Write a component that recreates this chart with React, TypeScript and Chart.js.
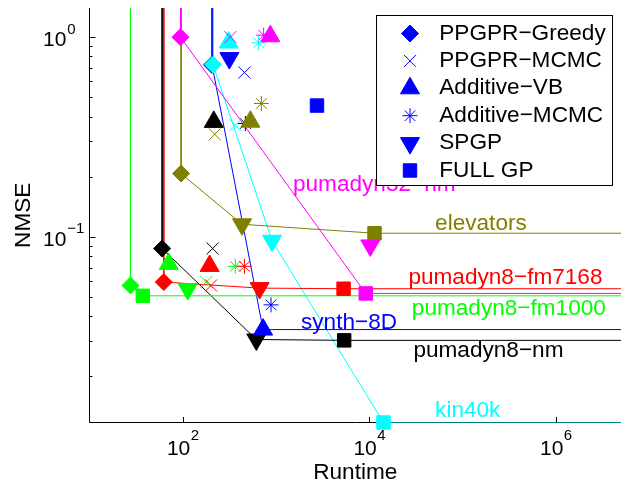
import React, { useEffect, useRef } from "react";
import { Chart, registerables } from "chart.js";
import { drawPoint } from "chart.js/helpers";

Chart.register(...registerables);

const FONT = '"Liberation Sans", Arial, Helvetica, sans-serif';

// ---- data ----
const datasetNames = [
  "pumadyn32−nm",
  "elevators",
  "pumadyn8−fm7168",
  "pumadyn8−fm1000",
  "synth−8D",
  "pumadyn8−nm",
  "kin40k",
];
const datasetColors = ["#ff00ff", "#808000", "#ff0000", "#00ff00", "#0000ff", "#000000", "#00ffff"];

const methodNames = ["PPGPR−Greedy", "PPGPR−MCMC", "Additive−VB", "Additive−MCMC", "SPGP", "FULL GP"];

// values per method, in the order of datasetNames
const greedyRuntime = [94.5, 96, 62.6, 27.5, 206, 60.1, 211];
const greedyNmse = [1.0, 0.207, 0.0592, 0.0569, 0.726, 0.0872, 0.728];
const ppgprMcmcRuntime = [324, 220, 201, 179, 458, 209, 366];
const ppgprMcmcNmse = [1.0, 0.326, 0.0569, 0.0592, 0.665, 0.0872, 0.362];
const additiveVbRuntime = [869, 531, 194, 70.8, 726, 215, 311];
const additiveVbNmse = [1.01, 0.377, 0.0713, 0.073, 0.0342, 0.376, 0.94];
const additiveMcmcRuntime = [736, 696, 458, 366, 883, 469, 651];
const additiveMcmcNmse = [1.023, 0.465, 0.071, 0.071, 0.0455, 0.369, 0.936];
const spgpRuntime = [10250, 432, 667, 113, 316, 615, 906];
const spgpNmse = [0.0903, 0.1153, 0.0552, 0.0546, 0.785, 0.0305, 0.0953];
const fullGpRuntime = [9170, 11380, 5300, 37.3, 2750, 5380, 14200];
const fullGpNmse = [0.0519, 0.104, 0.0548, 0.0505, 0.454, 0.0302, 0.0117];

// methods (indices) lying on each data set's frontier line
const frontierMethods = [[0, 5], [0, 4, 5], [0, 4, 5], [0, 5], [0, 2], [0, 4, 5], [0, 4, 5]];

// data set name labels, placed in data coordinates (left, baseline)
const labelRuntime = [1520, 50780, 26280, 28580, 1852, 29720, 50780];
const labelNmse = [0.1688, 0.1075, 0.0576, 0.0403, 0.0345, 0.0248, 0.0124];

const xTickValues = [1e2, 1e4, 1e6];
const xTickExponents = ["2", "4", "6"];
const yTickValues = [1e-1, 1e0];
const yTickExponents = ["−1", "0"];

const X_MIN = 10;
const X_MAX = 5e6;
const Y_MIN = 0.0117;
const Y_MAX = 1.4;

// ---- styles ----
const methodStyles = ["rectRot", "crossRot", "triangle", "star", "triangle", "rect"];
const methodRotation = [0, 0, 0, 0, 180, 0];
const methodRadius = [8.5, 8.5, 11, 7.5, 11, 9.5];
const markerDrawSeq = [3, 2, 5, 4, 6, 1, 0]; // green, red, black, blue, cyan, olive, magenta (last on top)
const TEXT_FONT = `22.6px ${FONT}`;

const runtimeByMethod = [greedyRuntime, ppgprMcmcRuntime, additiveVbRuntime, additiveMcmcRuntime, spgpRuntime, fullGpRuntime];
const nmseByMethod = [greedyNmse, ppgprMcmcNmse, additiveVbNmse, additiveMcmcNmse, spgpNmse, fullGpNmse];

function buildDatasets() {
  const sets: any[] = [];
  datasetNames.forEach((name, d) => {
    const color = datasetColors[d];
    const front = frontierMethods[d].map((m) => ({ x: runtimeByMethod[m][d], y: nmseByMethod[m][d] }));
    const lineData = [{ x: front[0].x, y: Y_MAX }, ...front, { x: X_MAX, y: front[front.length - 1].y }];
    sets.push({
      label: name + " frontier",
      data: lineData,
      showLine: true,
      borderColor: color,
      backgroundColor: color,
      borderWidth: 1,
      pointRadius: 0,
      pointHoverRadius: 0,
      order: 20 + d,
    });
  });
  datasetNames.forEach((name, d) => {
    const color = datasetColors[d];
    sets.push({
      label: name,
      data: methodNames.map((_, m) => ({ x: runtimeByMethod[m][d], y: nmseByMethod[m][d] })),
      showLine: false,
      pointStyle: methodStyles,
      pointRotation: methodRotation,
      pointRadius: methodRadius,
      pointHoverRadius: methodRadius,
      pointBackgroundColor: color,
      pointBorderColor: color,
      pointBorderWidth: 1,
      clip: false,
      order: markerDrawSeq.length - 1 - markerDrawSeq.indexOf(d),
    });
  });
  return sets;
}

const matlabAxes = {
  id: "matlabAxes",
  beforeDatasetsDraw(chart: any) {
    const { ctx, chartArea: a } = chart;
    ctx.save();
    ctx.strokeStyle = "#000";
    ctx.lineWidth = 1;
    ctx.beginPath();
    ctx.moveTo(a.left, a.top);
    ctx.lineTo(a.left, a.bottom);
    ctx.lineTo(a.right, a.bottom);
    ctx.stroke();
    ctx.restore();
  },
  afterDatasetsDraw(chart: any) {
    const { ctx, chartArea: a, scales } = chart;
    const xs = scales.x;
    const ys = scales.y;
    ctx.save();
    // ticks
    ctx.strokeStyle = "#000";
    ctx.lineWidth = 1;
    ctx.beginPath();
    xTickValues.forEach((v) => {
      const px = Math.round(xs.getPixelForValue(v)) + 0.5;
      ctx.moveTo(px, a.bottom);
      ctx.lineTo(px, a.bottom - 5.5);
    });
    for (let e = -2; e <= 0; e++) {
      for (let k = 1; k <= 9; k++) {
        const v = k * Math.pow(10, e);
        if (v < Y_MIN || v > Y_MAX) continue;
        const py = Math.round(ys.getPixelForValue(v)) + 0.5;
        const len = k === 1 ? 6 : 3;
        ctx.moveTo(a.left, py);
        ctx.lineTo(a.left + len, py);
      }
    }
    ctx.stroke();

    // tick labels
    ctx.fillStyle = "#000";
    ctx.textBaseline = "alphabetic";
    ctx.textAlign = "left";
    const baseFont = `21px ${FONT}`;
    const expFont = `15px ${FONT}`;
    xTickValues.forEach((v, i) => {
      const px = xs.getPixelForValue(v);
      ctx.font = baseFont;
      const bw = ctx.measureText("10").width;
      ctx.font = expFont;
      const ew = ctx.measureText(xTickExponents[i]).width;
      const start = px - (bw + ew) / 2;
      ctx.font = baseFont;
      ctx.fillText("10", start, 455);
      ctx.font = expFont;
      ctx.fillText(xTickExponents[i], start + bw + 0.5, 439.5);
    });
    yTickValues.forEach((v, i) => {
      const py = ys.getPixelForValue(v);
      ctx.font = baseFont;
      const bw = ctx.measureText("10").width;
      ctx.fillText("10", 43, py + 9);
      ctx.font = expFont;
      ctx.fillText(yTickExponents[i], 43 + bw + 1, py - 3.5);
    });

    // axis titles
    ctx.font = TEXT_FONT;
    ctx.textAlign = "center";
    ctx.fillText("Runtime", (a.left + a.right) / 2, 479);
    ctx.save();
    ctx.translate(30, (a.top + a.bottom) / 2);
    ctx.rotate(-Math.PI / 2);
    ctx.fillText("NMSE", 0, 0);
    ctx.restore();

    // data set labels
    ctx.textAlign = "left";
    ctx.font = TEXT_FONT;
    datasetNames.forEach((name, d) => {
      ctx.fillStyle = datasetColors[d];
      ctx.fillText(name, xs.getPixelForValue(labelRuntime[d]), ys.getPixelForValue(labelNmse[d]));
    });

    // legend box
    ctx.fillStyle = "#fff";
    ctx.fillRect(376.5, 15.5, 236, 170);
    ctx.strokeStyle = "#000";
    ctx.strokeRect(376.5, 15.5, 236, 170);
    methodNames.forEach((name, m) => {
      const cy = 33.5 + 27.4 * m;
      ctx.fillStyle = "#0000ff";
      ctx.strokeStyle = "#0000ff";
      ctx.lineWidth = 1;
      drawPoint(ctx, { pointStyle: methodStyles[m], rotation: methodRotation[m], radius: methodRadius[m], borderWidth: 1 } as any, 410, cy);
      ctx.fillStyle = "#000";
      ctx.font = TEXT_FONT;
      ctx.fillText(name, 439.3, cy + 6);
    });
    ctx.restore();
  },
};

export default function App() {
  const canvasRef = useRef<HTMLCanvasElement | null>(null);
  useEffect(() => {
    const canvas = canvasRef.current;
    if (!canvas) return;
    const chart = new Chart(canvas, {
      type: "scatter",
      data: { datasets: buildDatasets() },
      options: {
        animation: false,
        responsive: false,
        events: [],
        layout: { autoPadding: false, padding: { left: 89.5, top: 8, right: 0, bottom: 60.5 } },
        plugins: { legend: { display: false }, tooltip: { enabled: false } },
        scales: {
          x: { type: "logarithmic", min: X_MIN, max: X_MAX, display: false },
          y: { type: "logarithmic", min: Y_MIN, max: Y_MAX, display: false },
        },
      },
      plugins: [matlabAxes],
    } as any);
    return () => chart.destroy();
  }, []);
  return (
    <div style={{ position: "fixed", left: 0, top: 0, width: 621, height: 483, background: "#fff" }}>
      <canvas ref={canvasRef} width={621} height={483} style={{ display: "block", width: 621, height: 483 }} />
    </div>
  );
}
